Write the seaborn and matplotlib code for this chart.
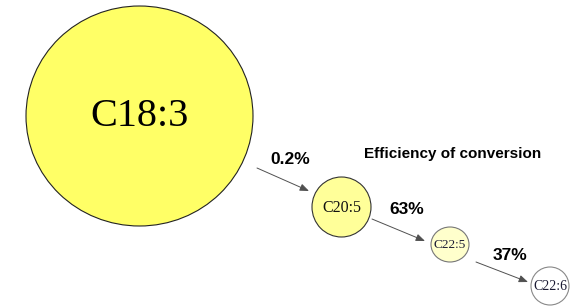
import matplotlib
matplotlib.use("Agg")
import matplotlib.pyplot as plt
from matplotlib.patches import Ellipse
import seaborn as sns

# fatty acids along the conversion pathway and step efficiencies
acids = ["C18:3", "C20:5", "C22:5", "C22:6"]
efficiency = ["0.2%", "63%", "37%"]
caption = "Efficiency of conversion"

# layout (pixel space of the 582x306 canvas)
centers_x = [139.5, 341.5, 450, 550]
centers_y = [116, 207, 244.5, 286]
widths = [227, 59, 38, 38]
heights = [220, 60, 35, 38]
fills = ["#ffff66", "#ffff99", "#ffffcc", "#ffffff"]
edges = ["#222222", "#333333", "#777777", "#888888"]
label_sizes = [29, 11.5, 9.5, 10]
label_colors = ["#000000", "#111111", "#1a1a33", "#1a1a33"]
arrow_starts = [(257, 168), (372, 219), (476, 262)]
arrow_ends = [(309, 191), (425, 241), (528, 282)]
pct_pos = [(290, 160), (407, 210), (510, 256)]

sns.set_theme(style="white")
plt.rcParams["font.family"] = ["Liberation Sans", "DejaVu Sans"]
plt.rcParams["text.color"] = "black"

fig = plt.figure(figsize=(5.82, 3.06), dpi=100)
ax = fig.add_axes([0, 0, 1, 1])
ax.set_xlim(0, 582)
ax.set_ylim(306, 0)
ax.axis("off")

for i, name in enumerate(acids):
    ax.add_patch(Ellipse((centers_x[i], centers_y[i]), widths[i], heights[i],
                         facecolor=fills[i], edgecolor=edges[i], lw=0.8))
    ax.text(centers_x[i], centers_y[i] + (1 if i else 0), name,
            family="Liberation Serif", fontsize=label_sizes[i],
            color=label_colors[i], ha="center", va="center")

for s, e in zip(arrow_starts, arrow_ends):
    ax.annotate("", xy=e, xytext=s,
                arrowprops=dict(arrowstyle="-|>,head_length=0.45,head_width=0.18",
                                color="#505050", lw=0.7, shrinkA=0, shrinkB=0))

for (x, y), t in zip(pct_pos, efficiency):
    ax.text(x, y, t, fontsize=12.5, fontweight="bold", ha="center", va="center")

ax.text(453, 154, caption, fontsize=11, fontweight="bold",
        ha="center", va="center")

fig.savefig("out.png", dpi=100)
